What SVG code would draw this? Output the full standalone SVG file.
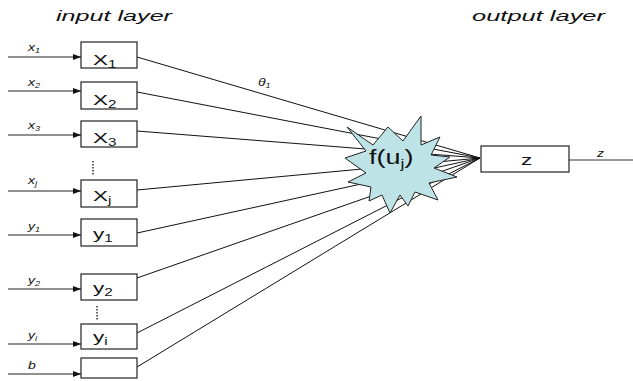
<svg xmlns="http://www.w3.org/2000/svg" width="633" height="381" viewBox="0 0 633 381">
  <style>
    .box { fill: #fff; stroke: #222; stroke-width: 1.2; }
    .wire { stroke: #111; stroke-width: 1; fill: none; }
    .in { stroke: #222; stroke-width: 1.1; fill: none; }
    .title { font-family: "Liberation Sans", Arial, sans-serif; font-style: italic; font-size: 15.5px; fill: #111; }
    .lbl { font-family: "Liberation Sans", Arial, sans-serif; font-style: italic; font-size: 10px; fill: #111; }
    .sub { font-size: 6.5px; }
    .node { font-family: "Liberation Sans", Arial, sans-serif; font-size: 15.5px; fill: #111; }
    .nsub { font-size: 10.5px; }
    .dots { stroke: #222; stroke-width: 1.4; stroke-dasharray: 1.6 1.4; }
  </style>
  <defs>
    <marker id="arrow" markerWidth="8" markerHeight="6" refX="8" refY="3" orient="auto" markerUnits="userSpaceOnUse">
      <path d="M0,0 L8,3 L0,6 z" fill="#111"/>
    </marker>
  </defs>

  <rect width="633" height="381" fill="#fff"/>

  <!-- layer titles -->
  <text class="title" x="56" y="21" textLength="116" lengthAdjust="spacingAndGlyphs">input layer</text>
  <text class="title" x="472" y="21" textLength="133" lengthAdjust="spacingAndGlyphs">output layer</text>

  <!-- connectors -->
  <g id="connectors">
    <g id="inputs">
      <line class="in" x1="8" y1="57" x2="81" y2="57" stroke="#777" marker-end="url(#arrow)"/>
      <line class="in" x1="8" y1="91" x2="81" y2="91" marker-end="url(#arrow)"/>
      <line class="in" x1="8" y1="135" x2="81" y2="135" marker-end="url(#arrow)"/>
      <line class="in" x1="8" y1="191" x2="81" y2="191" marker-end="url(#arrow)"/>
      <line class="in" x1="8" y1="235" x2="81" y2="235" marker-end="url(#arrow)"/>
      <line class="in" x1="8" y1="289" x2="81" y2="289" marker-end="url(#arrow)"/>
      <line class="in" x1="8" y1="344" x2="81" y2="344" marker-end="url(#arrow)"/>
      <line class="in" x1="8" y1="374" x2="81" y2="374" marker-end="url(#arrow)"/>
    </g>
    <g id="weights">
      <line class="wire" x1="137" y1="57" x2="480" y2="158"/>
      <line class="wire" x1="137" y1="92" x2="480" y2="158"/>
      <line class="wire" x1="137" y1="131" x2="480" y2="158"/>
      <line class="wire" x1="137" y1="190" x2="480" y2="158"/>
      <line class="wire" x1="128" y1="235" x2="480" y2="158"/>
      <line class="wire" x1="137" y1="278" x2="480" y2="158"/>
      <line class="wire" x1="137" y1="333" x2="480" y2="158"/>
      <line class="wire" x1="137" y1="367" x2="480" y2="158"/>
    </g>
    <line id="output" x1="569" y1="160" x2="633" y2="160" stroke="#777" stroke-width="1.3"/>
    <line class="dots" x1="93" y1="161" x2="93" y2="176"/>
    <line class="dots" x1="97" y1="306" x2="97" y2="320"/>
  </g>

  <!-- input labels -->
  <g id="labels">
    <text class="lbl" transform="translate(28,51) scale(1.4,1)">x<tspan class="sub" dy="2">1</tspan></text>
    <text class="lbl" transform="translate(28,86) scale(1.4,1)">x<tspan class="sub" dy="2">2</tspan></text>
    <text class="lbl" transform="translate(28,129) scale(1.4,1)">x<tspan class="sub" dy="2">3</tspan></text>
    <text class="lbl" transform="translate(28,184) scale(1.4,1)">x<tspan class="sub" dy="2">j</tspan></text>
    <text class="lbl" transform="translate(28,230) scale(1.4,1)">y<tspan class="sub" dy="2">1</tspan></text>
    <text class="lbl" transform="translate(28,284) scale(1.4,1)">y<tspan class="sub" dy="2">2</tspan></text>
    <text class="lbl" transform="translate(28,339) scale(1.4,1)">y<tspan class="sub" dy="2">i</tspan></text>
    <text class="lbl" transform="translate(28,369) scale(1.4,1)">b</text>
    <text class="lbl" transform="translate(258,86) scale(1.4,1)">θ<tspan class="sub" dy="2">1</tspan></text>
    <text class="lbl" transform="translate(597,157) scale(1.4,1)">z</text>
  </g>

  <!-- input nodes -->
  <g id="x1"><rect class="box" x="81" y="42" width="56" height="26"/>
    <text class="node" transform="translate(93,65) scale(1.45,1)">X<tspan class="nsub" dy="3">1</tspan></text></g>
  <g id="x2"><rect class="box" x="81" y="82" width="56" height="27"/>
    <text class="node" transform="translate(93,105) scale(1.45,1)">X<tspan class="nsub" dy="3">2</tspan></text></g>
  <g id="x3"><rect class="box" x="81" y="121" width="56" height="26"/>
    <text class="node" transform="translate(93,143) scale(1.45,1)">X<tspan class="nsub" dy="3">3</tspan></text></g>
  <g id="xj"><rect class="box" x="81" y="180" width="56" height="27"/>
    <text class="node" transform="translate(93,201) scale(1.45,1)">X<tspan class="nsub" dy="3">j</tspan></text></g>
  <g id="y1"><rect class="box" x="81" y="219" width="56" height="27"/>
    <text class="node" transform="translate(93,239) scale(1.45,1)">y<tspan class="nsub" dy="3">1</tspan></text></g>
  <g id="y2"><rect class="box" x="81" y="274" width="56" height="26"/>
    <text class="node" transform="translate(93,293) scale(1.45,1)">y<tspan class="nsub" dy="3">2</tspan></text></g>
  <g id="yi"><rect class="box" x="81" y="324" width="56" height="25"/>
    <text class="node" transform="translate(93,342) scale(1.45,1)">y<tspan class="nsub" dy="3">i</tspan></text></g>
  <g id="b"><rect class="box" x="81" y="358" width="56" height="20"/></g>

  <!-- activation node -->
  <g id="activation">
    <path d="M347,127 L373,145 L388,127 L403,141 L421,116 L421,145 L440,137 L431,155 L450,157 L434,168 L457,177 L429,183 L438,200 L415,192 L408,206 L400,195 L390,213 L382,195 L369,201 L371,187 L348,182 L366,173 L345,158 L366,151 Z" fill="#bde3e6" stroke="#222" stroke-width="1"/>
    <text class="node" style="font-size:20px" transform="translate(369,164) scale(1.35,1)">f(u<tspan style="font-size:13px" dy="4">j</tspan><tspan dy="-4">)</tspan></text>
  </g>

  <!-- output node -->
  <g id="z"><rect class="box" x="481" y="146" width="88" height="26"/>
    <text class="node" transform="translate(521,165) scale(1.45,1)">z</text></g>
</svg>
